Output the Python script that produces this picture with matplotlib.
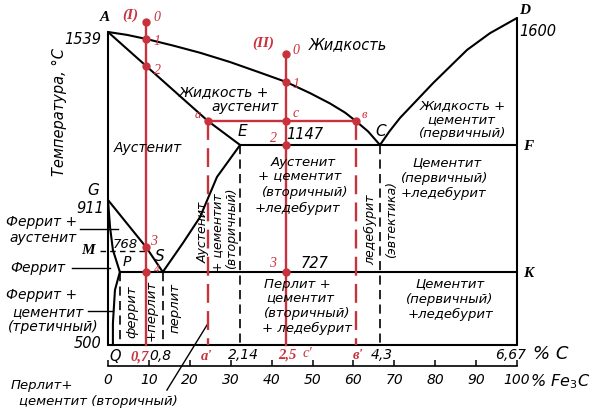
import numpy as np
import matplotlib
matplotlib.use('Agg')
import matplotlib.pyplot as plt
from matplotlib import transforms as mtrans

W, H = 604, 411
RED = '#c8323c'

# ---- schematic temperature scale (°C -> px from top) ----
T_knots = [0, 500, 727, 768, 911, 1147, 1539, 1600, 2000]
T_pix = [506, 345, 272, 251, 200, 145, 32, 18, -74]
# horizontal: %Fe3C axis, 0 -> px 108, 100 -> px 517
X0_PX, X_PX_PER = 108, 4.09

# ---- diagram lines: x on %Fe3C axis, T in °C ----
liq_AC_x = [0, 4.65, 9.3, 15.9, 22.5, 29.8, 37.2, 43.5, 49.4, 54.3, 58.0, 60.6, 63.6, 66.5]
liq_AC_T = [1539, 1529, 1515, 1492, 1467, 1435, 1398, 1366, 1327, 1291, 1259, 1230, 1194, 1147]
liq_CD_x = [66.5, 68.9, 71.4, 79.5, 87.8, 93.4, 100]
liq_CD_T = [1147, 1196, 1241, 1362, 1477, 1535, 1600]
sol_AE_x = [0, 24.45, 32.3]
sol_AE_T = [1539, 1230, 1147]
ES_x = [32.3, 26.65, 22.5, 18.3, 13.4]
ES_T = [1147, 1010, 863, 790, 727]
GS_x = [0, 9.3, 13.4]
GS_T = [911, 779, 727]
GP_x = [0, 0.5, 1.2, 2.9]
GP_T = [911, 835, 771, 727]
PQ_x = [2.9, 1.7, 1.2, 1.2]
PQ_T = [727, 671, 568, 500]
ECF_x = [32.3, 100]
ECF_T = [1147, 1147]
PSK_x = [2.9, 100]
PSK_T = [727, 727]
frame_left_T = [1539, 500]
frame_right_T = [1600, 500]
T_bottom = 500
# dashed structural boundaries (x, T_top)
dash_x = [2.9, 13.4, 32.3, 66.5]
dash_Ttop = [727, 727, 1147, 1147]
MO_x = [-1.96, 9.5]
MO_T = 768

# alloys
alloy_I_x = 9.3
alloy_I_T = [1583, 1515, 1420, 779, 727]
alloy_II_x = 43.5
alloy_II_T = [1463, 1366, 1230, 1147, 727]
tie_x = [24.45, 60.6]
tie_T = 1230

# leader lines
leaders = [([-6.85, 2.44], [830, 830]),
           ([-8.8, 0.5], [734, 734]),
           ([-4.9, 1.2], [606, 606]),
           ([14.4, 24.2], [360, 562])]

fe3c_ticks = list(range(0, 101, 10))


def fwd(T):
    return H - np.interp(T, T_knots, T_pix)


def inv(v):
    return np.interp(H - np.asarray(v, dtype=float), T_pix[::-1], T_knots[::-1])


fig = plt.figure(figsize=(W / 100, H / 100), dpi=100)
ax = fig.add_axes([0, 0, 1, 1])
ax.set_yscale('function', functions=(fwd, inv))
ax.set_xlim(-X0_PX / X_PX_PER, (W - X0_PX) / X_PX_PER)
ax.set_ylim(float(inv(0)), float(inv(H)))
ax.axis('off')

LW = 1.5
k = dict(color='black', lw=LW, solid_capstyle='round', solid_joinstyle='round')
for xs, ts in [(liq_AC_x, liq_AC_T), (liq_CD_x, liq_CD_T), (sol_AE_x, sol_AE_T),
               (ES_x, ES_T), (GS_x, GS_T), (GP_x, GP_T), (PQ_x, PQ_T),
               (ECF_x, ECF_T), (PSK_x, PSK_T)]:
    ax.plot(xs, ts, **k)
ax.plot([0, 0], frame_left_T, **k)
ax.plot([100, 100], frame_right_T, **k)
ax.plot([0, 100], [T_bottom, T_bottom], **k)

for x, tt in zip(dash_x, dash_Ttop):
    ax.plot([x, x], [tt, T_bottom], color='black', lw=1.2, dashes=(5.5, 3.2))
ax.plot(MO_x, [MO_T, MO_T], color='black', lw=1.0, dashes=(4, 3))

for xs, ts in leaders:
    ax.plot(xs, ts, color='black', lw=1.0)

# red construction
ax.plot([alloy_I_x, alloy_I_x], [alloy_I_T[0], T_bottom], color=RED, lw=1.7, zorder=5)
ax.plot([alloy_II_x, alloy_II_x], [alloy_II_T[0], T_bottom], color=RED, lw=1.7, zorder=5)
ax.plot(tie_x, [tie_T, tie_T], color=RED, lw=1.7, zorder=5)
for x in tie_x:
    ax.plot([x, x], [tie_T, T_bottom], color=RED, lw=1.7, dashes=(8, 3.5), zorder=5)
ax.plot([alloy_I_x] * len(alloy_I_T), alloy_I_T, 'o', color=RED, ms=5, zorder=6)
ax.plot([alloy_II_x] * len(alloy_II_T), alloy_II_T, 'o', color=RED, ms=5, zorder=6)
ax.plot(tie_x, [tie_T, tie_T], 'o', color=RED, ms=5, zorder=6)

# ---- ruler %Fe3C ----
axr = fig.add_axes([X0_PX / W, 1 - 366 / H, 100 * X_PX_PER / W, 1 / H])
axr.set_xlim(0, 100)
axr.set_yticks([])
for s in ['left', 'right', 'top']:
    axr.spines[s].set_visible(False)
axr.spines['bottom'].set_linewidth(1.2)
axr.patch.set_alpha(0)
axr.set_xticks(fe3c_ticks)
axr.set_xticklabels([str(t) for t in fe3c_ticks])
axr.tick_params(axis='x', direction='in', length=4, width=1.1, labelsize=10, pad=5)
for lbl in axr.get_xticklabels():
    lbl.set_fontstyle('italic')

# ---- text (pixel positions from top-left) ----
PX = mtrans.Affine2D().scale(1, -1).translate(0, H)


def t(x, y, s, size=9.5, color='black', rot=0, ha='center', family='DejaVu Sans',
      style='italic', weight='normal'):
    ax.text(x, y, s, transform=PX, fontsize=size, color=color, rotation=rot, ha=ha,
            va='center', family=family, style=style, weight=weight, zorder=10)


def serif(x, y, s, size=11, color='black', weight='bold'):
    t(x, y, s, size=size, color=color, family='Liberation Serif', weight=weight)


t(348, 45, 'Жидкость', size=10.5)
t(224, 92, 'Жидкость +', size=10)
t(245, 107, 'аустенит', size=10)
t(148, 148, 'Аустенит', size=10)
t(242, 131, 'E', size=11)
t(305, 134, '1147', size=10.5)
t(381, 131, 'C', size=11)
t(463, 106, 'Жидкость +')
t(461, 120, 'цементит')
t(463, 133, '(первичный)')
t(303, 162, 'Аустенит')
t(300, 176, '+ цементит')
t(305, 192, '(вторичный)')
t(297, 208, '+ледебурит')
t(447, 163, 'Цементит')
t(445, 178, '(первичный)')
t(443, 193, '+ледебурит')
t(93, 190, 'G', size=11)
t(90, 208, '911', size=10.5)
t(42, 222, 'Феррит +', size=10)
t(43, 238, 'аустенит', size=10)
serif(88, 250, 'M', size=11)
t(125, 244, '768', size=9.5)
t(127, 262, 'P', size=10)
t(160, 256, 'S', size=11)
t(38, 268, 'Феррит', size=10)
t(315, 263, '727', size=10.5)
t(203, 232, 'Аустенит', rot=90, size=9)
t(218, 233, '+ цементит', rot=90, size=9)
t(232, 228, '(вторичный)', rot=90, size=9)
t(371, 230, 'ледебурит', rot=90, size=9)
t(392, 219, '(эвтектика)', rot=90, size=9)
t(297, 284, 'Перлит +')
t(300, 298, 'цементит')
t(307, 313, '(вторичный)')
t(307, 328, '+ ледебурит')
t(450, 284, 'Цементит')
t(450, 299, '(первичный)')
t(450, 314, '+ледебурит')
t(42, 295, 'Феррит +', size=10)
t(48, 312, 'цементит', size=10)
t(53, 327, '(третичный)', size=10)
t(132, 312, 'феррит', rot=90, size=9.5)
t(151, 310, '+перлит', rot=90, size=9.5)
t(175, 308, 'перлит', rot=90, size=9.5)
t(101, 343, '500', size=10.5, ha='right')
t(101, 39, '1539', size=10.5, ha='right')
serif(105, 17, 'A', size=11)
serif(525, 10, 'D', size=11)
t(538, 31, '1600', size=10.5)
serif(528, 146, 'F', size=11)
serif(528, 273, 'K', size=11)
t(59, 112, 'Температура, °С', rot=90, size=10.5)

# %C row
t(115, 356, 'Q', size=10.5)
serif(140, 357, '0,7', size=10.5, color=RED)
t(160, 356, '0,8', size=10)
serif(207, 356, "а'", size=10.5, color=RED)
t(243, 355, '2,14', size=10)
serif(287, 355, '2,5', size=10.5, color=RED)
serif(307, 353, "с'", size=10.5, color=RED, weight='normal')
serif(358, 355, "в'", size=10.5, color=RED)
t(382, 355, '4,3', size=10)
t(511, 355, '6,67', size=10)
t(551, 354, '% C', size=13)
t(530, 382, r'% Fe$_3$C', size=11.5, ha='left')
t(42, 385, 'Перлит+', size=9.5)
t(98, 401, 'цементит (вторичный)', size=9.5)

# red point labels
serif(130, 15, '(I)', size=11, color=RED)
serif(157, 17, '0', size=10, color=RED, weight='normal')
serif(157, 41, '1', size=10, color=RED, weight='normal')
serif(158, 70, '2', size=10, color=RED, weight='normal')
serif(154, 241, '3', size=10, color=RED, weight='normal')
serif(157, 269, '4', size=8, color=RED, weight='normal')
serif(263, 43, '(II)', size=11, color=RED)
serif(296, 50, '0', size=10, color=RED, weight='normal')
serif(296, 84, '1', size=10, color=RED, weight='normal')
serif(296, 113, 'с', size=10, color=RED, weight='normal')
serif(273, 138, '2', size=10, color=RED, weight='normal')
serif(273, 263, '3', size=10, color=RED, weight='normal')
serif(198, 115, 'а', size=9, color=RED, weight='normal')
serif(364, 115, 'в', size=9, color=RED, weight='normal')

fig.savefig('out.png', dpi=100)
